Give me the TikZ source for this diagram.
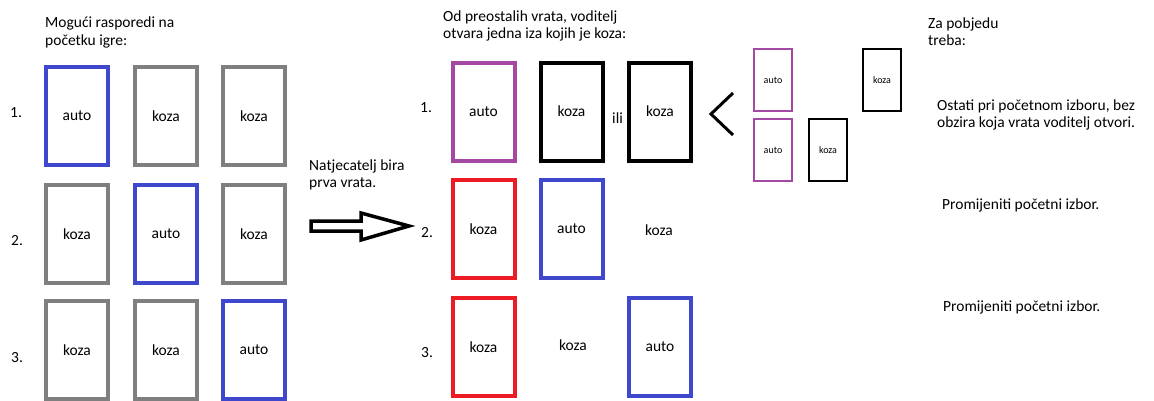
\documentclass[tikz,border=0pt]{standalone}
\usepackage{fontspec}
\setmainfont{Carlito}
\usetikzlibrary{positioning}
\definecolor{doorblue}{RGB}{63,72,204}
\definecolor{doorgray}{RGB}{127,127,127}
\definecolor{doorred}{RGB}{237,28,36}
\definecolor{doorpurple}{RGB}{163,73,164}
\tikzset{
		txt/.style={anchor=base west, inner sep=0pt, font=\fontsize{15.5}{18}\selectfont},
		door/.style={draw=#1, line width=4pt, minimum width=62pt, minimum height=98pt, font=\fontsize{15.5}{18}\selectfont},
		minidoor/.style={draw=#1, line width=2pt, minimum width=38pt, minimum height=62pt, font=\fontsize{10}{12}\selectfont}
	}

\begin{document}
\begin{tikzpicture}[x=1pt, y=-1pt]
		\useasboundingbox (0,0) rectangle (1154,400);
		\begin{scope}
			\node[txt] (naslov1) at (45,27) {Mogući rasporedi na};
			\node[txt] (naslov1b) at (45,45) {početku igre:};
			\node[txt] (l1) at (10,117) {1.};
			\node[txt] (l2) at (11,245) {2.};
			\node[txt] (l3) at (11,362) {3.};
			\node[door=doorblue] (a11) at (77,116) {auto};
			\node[door=doorgray] (a12) at (166,116) {koza};
			\node[door=doorgray] (a13) at (254,116) {koza};
			\node[door=doorgray] (a21) at (77,234) {koza};
			\node[door=doorblue] (a22) at (166,234) {auto};
			\node[door=doorgray] (a23) at (254,234) {koza};
			\node[door=doorgray] (a31) at (77,350) {koza};
			\node[door=doorgray] (a32) at (166,350) {koza};
			\node[door=doorblue] (a33) at (254,350) {auto};
		\end{scope}
		\node[txt] (bira1) at (309,170) {Natjecatelj bira};
		\node[txt] (bira2) at (309,187) {prva vrata.};
		\draw[line width=3.5pt, line join=miter] (311,221) -- (361,221) -- (361,213) -- (409,226) -- (361,240) -- (361,231) -- (311,231) -- cycle;
		\begin{scope}
			\node[txt] (naslov2) at (443,21) {Od preostalih vrata, voditelj};
			\node[txt] (naslov2b) at (443,38) {otvara jedna iza kojih je koza:};
			\node[txt] (m1) at (420,112) {1.};
			\node[txt] (m2) at (421,237) {2.};
			\node[txt] (m3) at (421,357) {3.};
			\node[door=doorpurple] (b11) at (483.5,111.5) {auto};
			\node[door=black] (b12) at (571.5,111.5) {koza};
			\node[txt] (ili) at (612,123) {ili};
			\node[door=black] (b13) at (660,111.5) {koza};
			\node[door=doorred] (b21) at (483.5,229) {koza};
			\node[door=doorblue] (b22) at (571.5,229) {auto};
			\node[font=\fontsize{15.5}{18}\selectfont] (b23) at (659,230) {koza};
			\node[door=doorred] (b31) at (483.5,347) {koza};
			\node[font=\fontsize{15.5}{18}\selectfont] (b32) at (573,345) {koza};
			\node[door=doorblue] (b33) at (660,347) {auto};
		\end{scope}
		\draw[line width=3pt] (733,93) -- (711,114) -- (733,135);
		\node[minidoor=doorpurple] (c1) at (773,80) {auto};
		\node[minidoor=doorpurple] (c2) at (773,150) {auto};
		\node[minidoor=black] (c3) at (828,150) {koza};
		\node[minidoor=black] (c4) at (882,80) {koza};
		\begin{scope}
			\node[txt] (naslov3) at (928,28) {Za pobjedu};
			\node[txt] (naslov3b) at (928,45) {treba:};
			\node[txt] (r1) at (937,110) {Ostati pri početnom izboru, bez};
			\node[txt] (r1b) at (937,127) {obzira koja vrata voditelj otvori.};
			\node[txt] (r2) at (942,209) {Promijeniti početni izbor.};
			\node[txt] (r3) at (943,311) {Promijeniti početni izbor.};
		\end{scope}
	\end{tikzpicture}
\end{document}
